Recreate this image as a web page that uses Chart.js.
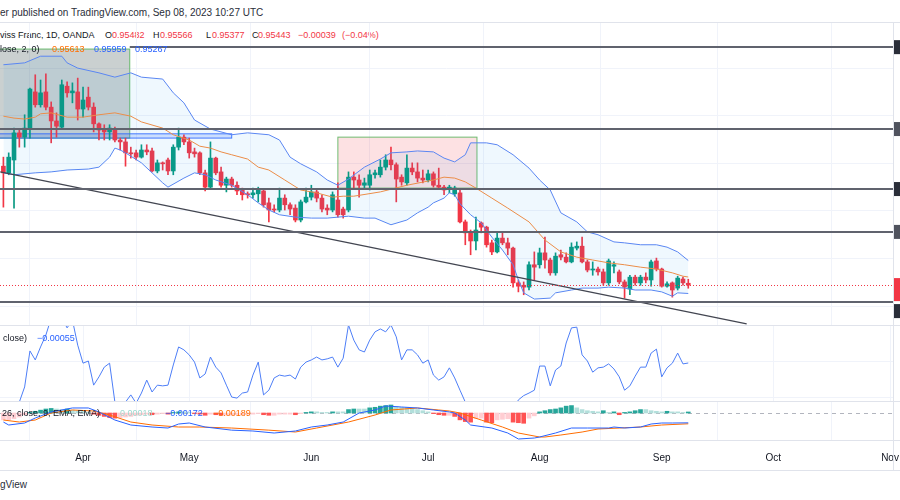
<!DOCTYPE html>
<html>
<head>
<meta charset="utf-8">
<script src="https://cdn.jsdelivr.net/npm/chart.js@4.4.0/dist/chart.umd.min.js"></script>
<style>
  body { margin: 0; width: 900px; height: 500px; background: #fff; position: relative; overflow: hidden; font-family: "Liberation Sans", Arial, sans-serif; }
  canvas { position: absolute; left: 0; }
  .t { position: absolute; white-space: pre; font-size: 9px; line-height: 9px; color: #131722; }
  .hr { position: absolute; left: 0; width: 900px; height: 1px; background: #e0e3eb; }
  .red { color: #f23645; } .blue { color: #2962ff; } .orange { color: #ff6d00; } .teal { color: #9fd8cf; }
</style>
</head>
<body>
<div class="t" style="left:0;top:8px;font-size:10px;line-height:10px;color:#2a2e39">er published on TradingView.com, Sep 08, 2023 10:27 UTC</div>
<div class="hr" style="top:22px"></div>

<div class="t" style="left:0;top:31px">viss Franc, 1D, OANDA</div>
<div class="t" style="left:105px;top:31px">O</div><div class="t red" style="left:112px;top:31px">0.95482</div>
<div class="t" style="left:153px;top:31px">H</div><div class="t red" style="left:160px;top:31px">0.95566</div>
<div class="t" style="left:206px;top:31px">L</div><div class="t red" style="left:212px;top:31px">0.95377</div>
<div class="t" style="left:252px;top:31px">C</div><div class="t red" style="left:258px;top:31px">0.95443</div>
<div class="t red" style="left:298px;top:31px">−0.00039</div><div class="t red" style="left:342px;top:31px">(−0.04%)</div>

<canvas id="price" width="900" height="302" style="top:23px"></canvas>
<canvas id="mom" width="900" height="75" style="top:326px"></canvas>
<canvas id="macd" width="900" height="69" style="top:401px"></canvas>

<div class="t" style="left:0;top:45px">lose, 2, 0)</div>
<div class="t orange" style="left:52px;top:45px">0.95613</div>
<div class="t blue" style="left:94px;top:45px">0.95959</div>
<div class="t blue" style="left:135px;top:45px">0.95267</div>

<div class="t" style="left:3px;top:334px">close)</div>
<div class="t blue" style="left:37px;top:334px">−0.00055</div>

<div class="t" style="left:2px;top:409px">26, close, 9, EMA, EMA)</div>
<div class="t teal" style="left:120px;top:409px">0.00018</div>
<div class="t blue" style="left:165px;top:409px">−0.00172</div>
<div class="t orange" style="left:213px;top:409px">−0.00189</div>

<div class="hr" style="top:325px"></div>
<div class="hr" style="top:401px"></div>
<div class="hr" style="top:440px"></div>
<div class="hr" style="top:470px"></div>
<div style="position:absolute;left:893px;top:22px;width:1px;height:448px;background:#e0e3eb"></div>
<div class="t" style="left:0;top:480px;font-size:10px;line-height:10px;color:#2a2e39">gView</div>

<script>
// daily candles, index 0 = Mar 13 2023 ... 129 = Sep 08 2023
const opens = [
  0.9794, 0.9780, 0.9807, 0.9864, 0.9855, 0.9872, 0.9950, 0.9923, 0.9950, 0.9918,
  0.9889, 0.9876, 0.9962, 0.9948, 0.9950, 0.9914, 0.9939, 0.9918, 0.9883, 0.9872,
  0.9866, 0.9870, 0.9849, 0.9845, 0.9822, 0.9822, 0.9813, 0.9828, 0.9826, 0.9784,
  0.9801, 0.9807, 0.9784, 0.9834, 0.9855, 0.9845, 0.9824, 0.9822, 0.9780, 0.9750,
  0.9811, 0.9782, 0.9754, 0.9767, 0.9754, 0.9744, 0.9736, 0.9734, 0.9736, 0.9742,
  0.9717, 0.9704, 0.9702, 0.9727, 0.9713, 0.9706, 0.9681, 0.9719, 0.9729, 0.9740,
  0.9727, 0.9706, 0.9702, 0.9723, 0.9704, 0.9702, 0.9771, 0.9765, 0.9754, 0.9754,
  0.9776, 0.9776, 0.9792, 0.9807, 0.9797, 0.9771, 0.9759, 0.9790, 0.9782, 0.9769,
  0.9765, 0.9778, 0.9754, 0.9750, 0.9746, 0.9736, 0.9738, 0.9677, 0.9654, 0.9637,
  0.9675, 0.9666, 0.9633, 0.9614, 0.9643, 0.9633, 0.9622, 0.9549, 0.9544, 0.9540,
  0.9587, 0.9587, 0.9612, 0.9597, 0.9570, 0.9608, 0.9603, 0.9593, 0.9622, 0.9626,
  0.9593, 0.9576, 0.9578, 0.9572, 0.9549, 0.9584, 0.9572, 0.9551, 0.9536, 0.9561,
  0.9549, 0.9561, 0.9555, 0.9595, 0.9578, 0.9542, 0.9549, 0.9538, 0.9557, 0.95482
];
const highs = [
  0.9813, 0.9822, 0.9874, 0.9870, 0.9902, 0.9958, 0.9986, 0.9975, 0.9988, 0.9929,
  0.9906, 0.9975, 0.9971, 0.9969, 0.9979, 0.9960, 0.9960, 0.9927, 0.9885, 0.9881,
  0.9881, 0.9876, 0.9853, 0.9853, 0.9834, 0.9828, 0.9839, 0.9839, 0.9832, 0.9807,
  0.9803, 0.9811, 0.9839, 0.9874, 0.9860, 0.9853, 0.9832, 0.9824, 0.9786, 0.9845,
  0.9813, 0.9792, 0.9771, 0.9771, 0.9761, 0.9748, 0.9740, 0.9748, 0.9750, 0.9744,
  0.9727, 0.9713, 0.9748, 0.9734, 0.9717, 0.9713, 0.9723, 0.9748, 0.9754, 0.9744,
  0.9734, 0.9713, 0.9740, 0.9759, 0.9708, 0.9782, 0.9782, 0.9776, 0.9769, 0.9786,
  0.9786, 0.9807, 0.9818, 0.9834, 0.9801, 0.9776, 0.9818, 0.9801, 0.9801, 0.9786,
  0.9786, 0.9782, 0.9790, 0.9754, 0.9754, 0.9752, 0.9744, 0.9681, 0.9660, 0.9687,
  0.9677, 0.9668, 0.9639, 0.9656, 0.9654, 0.9643, 0.9624, 0.9555, 0.9551, 0.9593,
  0.9614, 0.9622, 0.9645, 0.9601, 0.9612, 0.9618, 0.9612, 0.9633, 0.9635, 0.9645,
  0.9597, 0.9593, 0.9582, 0.9578, 0.9599, 0.9593, 0.9576, 0.9555, 0.9565, 0.9565,
  0.9565, 0.9570, 0.9597, 0.9601, 0.9580, 0.9551, 0.9551, 0.9563, 0.9561, 0.95566
];
const lows = [
  0.9708, 0.9776, 0.9706, 0.9834, 0.9834, 0.9853, 0.9918, 0.9918, 0.9912, 0.9843,
  0.9855, 0.9874, 0.9939, 0.9927, 0.9891, 0.9897, 0.9912, 0.9866, 0.9849, 0.9849,
  0.9849, 0.9845, 0.9828, 0.9794, 0.9811, 0.9807, 0.9811, 0.9818, 0.9782, 0.9780,
  0.9786, 0.9776, 0.9776, 0.9828, 0.9839, 0.9811, 0.9813, 0.9776, 0.9742, 0.9748,
  0.9776, 0.9750, 0.9740, 0.9750, 0.9734, 0.9723, 0.9727, 0.9727, 0.9719, 0.9708,
  0.9677, 0.9698, 0.9698, 0.9702, 0.9692, 0.9677, 0.9677, 0.9717, 0.9723, 0.9719,
  0.9698, 0.9692, 0.9698, 0.9687, 0.9685, 0.9698, 0.9748, 0.9729, 0.9748, 0.9744,
  0.9769, 0.9771, 0.9786, 0.9786, 0.9719, 0.9754, 0.9754, 0.9776, 0.9761, 0.9759,
  0.9761, 0.9750, 0.9748, 0.9734, 0.9738, 0.9731, 0.9675, 0.9629, 0.9608, 0.9618,
  0.9654, 0.9624, 0.9608, 0.9612, 0.9629, 0.9608, 0.9540, 0.9530, 0.9524, 0.9534,
  0.9555, 0.9580, 0.9580, 0.9565, 0.9565, 0.9597, 0.9591, 0.9591, 0.9618, 0.9591,
  0.9572, 0.9565, 0.9565, 0.9544, 0.9544, 0.9570, 0.9547, 0.9517, 0.9524, 0.9544,
  0.9544, 0.9549, 0.9542, 0.9574, 0.9540, 0.9540, 0.9519, 0.9534, 0.9544, 0.95377
];
const closes = [
  0.9780, 0.9813, 0.9864, 0.9855, 0.9874, 0.9956, 0.9923, 0.9948, 0.9918, 0.9889,
  0.9878, 0.9965, 0.9948, 0.9952, 0.9914, 0.9933, 0.9918, 0.9883, 0.9870, 0.9866,
  0.9874, 0.9849, 0.9845, 0.9822, 0.9820, 0.9813, 0.9828, 0.9824, 0.9784, 0.9801,
  0.9799, 0.9784, 0.9834, 0.9855, 0.9845, 0.9822, 0.9820, 0.9780, 0.9750, 0.9811,
  0.9780, 0.9754, 0.9767, 0.9754, 0.9742, 0.9734, 0.9734, 0.9738, 0.9744, 0.9713,
  0.9702, 0.9702, 0.9727, 0.9713, 0.9704, 0.9681, 0.9719, 0.9729, 0.9740, 0.9727,
  0.9704, 0.9702, 0.9734, 0.9692, 0.9692, 0.9771, 0.9765, 0.9754, 0.9759, 0.9776,
  0.9780, 0.9792, 0.9807, 0.9797, 0.9767, 0.9761, 0.9790, 0.9782, 0.9769, 0.9765,
  0.9778, 0.9754, 0.9750, 0.9744, 0.9750, 0.9748, 0.9677, 0.9654, 0.9637, 0.9660,
  0.9666, 0.9629, 0.9614, 0.9643, 0.9633, 0.9622, 0.9549, 0.9542, 0.9540, 0.9587,
  0.9582, 0.9612, 0.9597, 0.9570, 0.9605, 0.9603, 0.9593, 0.9624, 0.9626, 0.9593,
  0.9576, 0.9578, 0.9572, 0.9549, 0.9595, 0.9587, 0.9551, 0.9540, 0.9561, 0.9549,
  0.9561, 0.9555, 0.9593, 0.9578, 0.9542, 0.9547, 0.9534, 0.9559, 0.9549, 0.95443
];

// Bollinger bands (20, 2): [bar, value]
const bbUpper = [[0,1.0007],[4,1.0011],[7,1.0025],[11,1.0025],[12,1.0011],[14,1.0000],[18,0.9990],[21,0.9981],[24,0.9990],[26,0.9981],[30,0.9977],[32,0.9948],[34,0.9927],[36,0.9891],[39,0.9872],[43,0.9860],[46,0.9864],[50,0.9860],[52,0.9849],[54,0.9813],[56,0.9799],[59,0.9782],[61,0.9765],[63,0.9754],[65,0.9767],[68,0.9792],[71,0.9809],[73,0.9822],[76,0.9824],[78,0.9826],[81,0.9824],[83,0.9811],[85,0.9803],[87,0.9818],[88,0.9843],[91,0.9843],[93,0.9839],[96,0.9818],[99,0.9790],[101,0.9765],[103,0.9744],[105,0.9696],[108,0.9677],[110,0.9656],[112,0.9650],[115,0.9635],[117,0.9633],[120,0.9629],[123,0.9629],[125,0.9624],[127,0.9614],[129,0.95959]];
const bbLower = [[0,0.9780],[2,0.9776],[6,0.9780],[9,0.9782],[12,0.9786],[16,0.9788],[18,0.9792],[20,0.9813],[21,0.9832],[22,0.9828],[23,0.9822],[26,0.9801],[28,0.9780],[30,0.9759],[31,0.9750],[34,0.9769],[36,0.9780],[38,0.9776],[40,0.9765],[43,0.9754],[46,0.9734],[48,0.9717],[50,0.9702],[52,0.9692],[55,0.9687],[58,0.9685],[61,0.9685],[63,0.9687],[65,0.9689],[68,0.9685],[70,0.9685],[73,0.9671],[76,0.9681],[78,0.9696],[80,0.9708],[81,0.9717],[83,0.9727],[84,0.9738],[85,0.9734],[86,0.9715],[88,0.9692],[90,0.9675],[92,0.9645],[94,0.9618],[96,0.9587],[97,0.9555],[98,0.9528],[100,0.9515],[103,0.9517],[104,0.9528],[107,0.9534],[109,0.9538],[112,0.9538],[114,0.9540],[117,0.9538],[119,0.9534],[122,0.9534],[124,0.9530],[126,0.9521],[127,0.9528],[129,0.95267]];
const bbBasis = [[0,0.9899],[2,0.9895],[4,0.9893],[6,0.9897],[7,0.9904],[9,0.9906],[12,0.9897],[15,0.9897],[18,0.9902],[21,0.9906],[24,0.9899],[26,0.9887],[30,0.9874],[32,0.9860],[35,0.9849],[37,0.9836],[39,0.9832],[41,0.9824],[43,0.9818],[46,0.9809],[48,0.9792],[50,0.9786],[53,0.9765],[56,0.9744],[59,0.9738],[62,0.9729],[64,0.9731],[66,0.9731],[71,0.9740],[76,0.9754],[81,0.9765],[83,0.9771],[85,0.9769],[87,0.9761],[89,0.9748],[92,0.9727],[95,0.9706],[99,0.9677],[102,0.9639],[105,0.9614],[108,0.9603],[111,0.9597],[114,0.9591],[117,0.9587],[120,0.9582],[123,0.9578],[126,0.9570],[128,0.9563],[129,0.95613]];

// momentum pane, first value at bar 2
const momStart = 2;
const momentum = [
  -0.0164, -0.0114, -0.0072, 0.0028, 0.0003, 0.0039, 0.0072, 0.0119, 0.0136, 0.0119,
  0.0092, 0.0114, 0.0044, -0.0006, 0.0000, -0.0067, -0.0044, -0.0017, -0.0006, -0.0114,
  -0.0122, -0.0114, -0.0094, -0.0117, -0.0089, -0.0053, -0.0086, -0.0067, -0.0069, -0.0067,
  -0.0011, 0.0039, 0.0031, 0.0017, -0.0003, -0.0047, -0.0036, 0.0011, -0.0017, -0.0033,
  -0.0067, -0.0100, -0.0103, -0.0089, -0.0086, -0.0039, -0.0003, -0.0094, -0.0081, -0.0047,
  -0.0039, -0.0042, -0.0039, -0.0050, -0.0017, -0.0003, 0.0003, 0.0011, 0.0003, 0.0006,
  0.0011, -0.0017, 0.0008, 0.0100, 0.0058, 0.0031, 0.0025, 0.0058, 0.0081, 0.0089,
  0.0081, 0.0100, 0.0067, 0.0003, 0.0031, 0.0031, 0.0017, -0.0006, 0.0003, -0.0039,
  -0.0053, -0.0044, -0.0019, -0.0047, -0.0081, -0.0114, -0.0142, -0.0164, -0.0178, -0.0192,
  -0.0178, -0.0186, -0.0164, -0.0150, -0.0136, -0.0108, -0.0096, -0.0089, -0.0081, -0.0014,
  -0.0014, -0.0069, -0.0025, -0.0014, 0.0050, 0.0092, 0.0094, 0.0017, 0.0000, -0.0031,
  -0.0019, -0.0017, -0.0008, -0.0022, -0.0044, -0.0081, -0.0069, -0.0042, -0.0017, -0.0017,
  0.0022, 0.0033, -0.0044, -0.0019, -0.0006, 0.0022, -0.0008, -0.00055
];

// MACD (12, 26, 9)
const macdHist = [
  -0.0012, -0.0012, -0.0010, -0.0007, -0.0003, 0.0001, 0.0003, 0.0005, 0.0007, 0.0008,
  0.0007, 0.0006, 0.0007, 0.0005, 0.0004, 0.0003, 0.0001, -0.0002, -0.0004, -0.0006,
  -0.0008, -0.0009, -0.0008, -0.0007, -0.0006, -0.0004, -0.0003, -0.0002, -0.0003, -0.0002,
  -0.0001, -0.0002, 0.0001, 0.0002, 0.0002, 0.0001, -0.0001, -0.0002, -0.0004, -0.0002,
  -0.0003, -0.0004, -0.0004, -0.0004, -0.0003, -0.0003, -0.0002, -0.0002, -0.0001, -0.0003,
  -0.0004, -0.0004, -0.0002, -0.0002, -0.0002, -0.0003, -0.0001, 0.0001, 0.0002, 0.0002,
  0.0001, 0.0001, 0.0002, 0.0002, 0.0002, 0.0006, 0.0007, 0.0007, 0.0007, 0.0009,
  0.0010, 0.0012, 0.0013, 0.0014, 0.0011, 0.0010, 0.0010, 0.0008, 0.0006, 0.0004,
  0.0002, -0.0001, -0.0003, -0.0004, -0.0004, -0.0006, -0.0012, -0.0015, -0.0016, -0.0010,
  -0.0009, -0.0016, -0.0017, -0.0012, -0.0011, -0.0010, -0.0016, -0.0017, -0.0018, -0.0009,
  -0.0005, 0.0002, 0.0004, 0.0006, 0.0007, 0.0009, 0.0012, 0.0013, 0.0009, 0.0006,
  0.0004, 0.0003, 0.0002, 0.0004, 0.0001, 0.0002, -0.0003, 0.0001, 0.0002, 0.0004,
  0.0006, 0.0006, 0.0004, 0.0003, 0.0002, 0.0003, 0.0002, 0.0002, 0.0001, 0.00018
];
const macdLine = [[0,-0.00158],[1,-0.0021],[4,-0.00175],[6,-0.00088],[9,0.00018],[13,0.00088],[16,0.00088],[18,0.00018],[21,-0.00123],[24,-0.0021],[28,-0.00245],[31,-0.00263],[33,-0.00193],[35,-0.00175],[38,-0.00245],[43,-0.0030],[47,-0.00315],[51,-0.0035],[55,-0.00315],[58,-0.00245],[61,-0.0021],[64,-0.00158],[67,0],[70,0.00053],[72,0.00123],[75,0.00105],[78,0.00088],[81,0.00053],[84,0.00018],[85,0],[87,-0.00123],[88,-0.0021],[92,-0.00263],[95,-0.0035],[97,-0.00455],[100,-0.00438],[101,-0.0042],[104,-0.0035],[107,-0.00263],[110,-0.00263],[114,-0.00263],[115,-0.00245],[117,-0.00263],[120,-0.00245],[122,-0.00193],[124,-0.00175],[126,-0.00175],[129,-0.00172]];
const signalLine = [[0,-0.00123],[3,-0.00158],[6,-0.00123],[9,0],[13,0.00053],[17,0.00035],[20,-0.00035],[24,-0.00158],[28,-0.0021],[33,-0.00245],[37,-0.00245],[43,-0.00263],[50,-0.0030],[55,-0.00333],[59,-0.00263],[65,-0.00158],[70,-0.00035],[73,0.00053],[78,0.00088],[82,0.00053],[84,0.00035],[86,0],[90,-0.00123],[94,-0.00245],[97,-0.0035],[101,-0.0042],[102,-0.0042],[105,-0.00385],[109,-0.00333],[112,-0.0028],[116,-0.00263],[120,-0.00245],[124,-0.0021],[129,-0.00189]];

// time axis
const monthIdx = [15, 35, 58, 80, 101, 124, 145, 167];
const monthLabels = ['Apr', 'May', 'Jun', 'Jul', 'Aug', 'Sep', 'Oct', 'Nov'];

// drawings on the price pane (bar index / price)
const levels = [1.0044, 0.9872, 0.9746, 0.9656, 0.9509];
const levelFrom = [23.8, -1, -1, -1, -1];
const trend = [[-0.6, 0.9782], [140, 0.9463]];
const zones = [
  { from: -1, to: 23.8, top: 1.0040, bottom: 0.9853 },
  { from: -1, to: 43, top: 0.9862, bottom: 0.9853 },
  { from: 63, to: 89.2, top: 0.9855, bottom: 0.9748 }
];

const zoneStyles = [
  { fill: 'rgba(91,110,110,0.32)', border: 'rgba(76,175,80,0.8)' },
  { fill: 'rgba(41,98,255,0.18)', border: 'rgba(41,98,255,0.85)' },
  { fill: 'rgba(242,54,69,0.15)', border: 'rgba(76,175,80,0.8)' }
];
const levelBoxColors = ['#2a2e39', '#50535e', '#2a2e39', '#50535e', '#2a2e39'];
const UP = '#089981', DOWN = '#f23645';
const X_MIN = -0.64, X_MAX = 167.56;

Chart.defaults.font.family = '"Liberation Sans", Arial, sans-serif';
Chart.defaults.animation = false;

const pairs = arr => arr.map(p => ({ x: p[0], y: p[1] }));
const candleColors = closes.map((c, i) => c >= opens[i] ? UP : DOWN);

const xAxis = (showTicks) => ({
  type: 'linear', min: X_MIN, max: X_MAX, offset: false,
  grid: { color: '#f0f3fa', drawTicks: false },
  border: { display: false },
  ticks: {
    display: showTicks, color: '#131722', font: { size: 10 }, padding: 12,
    maxRotation: 0, autoSkip: false,
    callback: v => monthLabels[monthIdx.indexOf(v)] || ''
  },
  afterBuildTicks: s => { s.ticks = monthIdx.map(v => ({ value: v })); },
  afterFit: s => { s.height = showTicks ? 30 : 0; s.paddingLeft = 0; s.paddingRight = 0; }
});
const yAxis = (min, max, step, grid) => ({
  type: 'linear', position: 'right', min, max,
  grid: { display: grid, color: '#f0f3fa', drawTicks: false },
  border: { display: false },
  ticks: { display: false, stepSize: step, includeBounds: false },
  afterFit: s => { s.width = 0; }
});
const baseOptions = (x, y) => ({
  responsive: false,
  layout: { padding: { left: 0, right: 7, top: 0, bottom: 0 } },
  plugins: { legend: { display: false }, tooltip: { enabled: false } },
  scales: { x, y }
});

const priceDrawings = {
  id: 'priceDrawings',
  beforeDatasetsDraw(chart) {
    const { ctx, chartArea: a, scales: { x, y } } = chart;
    ctx.save();
    ctx.beginPath(); ctx.rect(a.left, a.top, a.width, a.height); ctx.clip();
    zones.forEach((z, k) => {
      const x0 = x.getPixelForValue(z.from), x1 = x.getPixelForValue(z.to);
      const y0 = y.getPixelForValue(z.top), y1 = y.getPixelForValue(z.bottom);
      ctx.fillStyle = zoneStyles[k].fill;
      ctx.fillRect(x0, y0, x1 - x0, y1 - y0);
      ctx.strokeStyle = zoneStyles[k].border;
      ctx.lineWidth = 1;
      ctx.strokeRect(x0, y0, x1 - x0, y1 - y0);
    });
    ctx.restore();
  },
  afterDatasetsDraw(chart) {
    const { ctx, chartArea: a, scales: { x, y } } = chart;
    ctx.save();
    ctx.beginPath(); ctx.rect(a.left, a.top, a.width, a.height); ctx.clip();
    // trend line
    ctx.strokeStyle = '#434651'; ctx.lineWidth = 1.3;
    ctx.beginPath();
    ctx.moveTo(x.getPixelForValue(trend[0][0]), y.getPixelForValue(trend[0][1]));
    ctx.lineTo(x.getPixelForValue(trend[1][0]), y.getPixelForValue(trend[1][1]));
    ctx.stroke();
    // horizontal levels
    ctx.strokeStyle = '#60636e'; ctx.lineWidth = 2;
    levels.forEach((v, k) => {
      const py = Math.round(y.getPixelForValue(v));
      ctx.beginPath();
      ctx.moveTo(x.getPixelForValue(levelFrom[k]), py);
      ctx.lineTo(a.right, py);
      ctx.stroke();
    });
    // last price
    const last = closes[closes.length - 1];
    const ly = Math.round(y.getPixelForValue(last)) + 0.5;
    ctx.strokeStyle = DOWN; ctx.lineWidth = 1; ctx.setLineDash([1, 2]);
    ctx.beginPath(); ctx.moveTo(a.left, ly); ctx.lineTo(a.right, ly); ctx.stroke();
    ctx.restore();
  },
  afterDraw(chart) {
    const { ctx, chartArea: a, scales: { y } } = chart;
    const boxes = levels.map((v, k) => ({ y: y.getPixelForValue(v) - 7, h: 14, c: levelBoxColors[k] }));
    boxes.push({ y: y.getPixelForValue(closes[closes.length - 1]) - 7, h: 23, c: DOWN });
    boxes.sort((p, q) => p.y - q.y);
    let prevEnd = -Infinity;
    ctx.save();
    boxes.forEach(b => {
      if (b.y < prevEnd + 3) b.y = prevEnd + 3;
      ctx.fillStyle = b.c;
      ctx.fillRect(a.right + 1, b.y, 10, b.h);
      prevEnd = b.y + b.h;
    });
    ctx.restore();
  }
};

new Chart(document.getElementById('price'), {
  type: 'bar',
  data: {
    datasets: [
      { type: 'line', data: pairs(bbUpper), borderColor: '#5a86f2', borderWidth: 1, pointRadius: 0,
        fill: '+1', backgroundColor: 'rgba(33,150,243,0.07)', order: 0 },
      { type: 'line', data: pairs(bbLower), borderColor: '#5a86f2', borderWidth: 1, pointRadius: 0, fill: false, order: 0 },
      { type: 'line', data: pairs(bbBasis), borderColor: '#fb8c3c', borderWidth: 1, pointRadius: 0, fill: false, order: 0 },
      { data: lows.map((l, i) => ({ x: i, y: [l, highs[i]] })), backgroundColor: candleColors,
        barThickness: 1, grouped: false, order: 3 },
      { data: opens.map((o, i) => ({ x: i, y: [o, closes[i]] })), backgroundColor: candleColors,
        barThickness: 4, minBarLength: 1, grouped: false, order: 2 }
    ]
  },
  options: baseOptions(xAxis(false), yAxis(0.94605, 1.00947, 0.01, true)),
  plugins: [priceDrawings]
});

new Chart(document.getElementById('mom'), {
  type: 'line',
  data: {
    datasets: [{ data: momentum.map((v, k) => ({ x: momStart + k, y: v })), borderColor: '#4d7ef7',
      borderWidth: 1, pointRadius: 0, fill: false }]
  },
  options: baseOptions(xAxis(false), yAxis(-0.0111, 0.00972, 0.01, true))
});

const zeroLine = {
  id: 'zeroLine',
  beforeDatasetsDraw(chart) {
    const { ctx, chartArea: a, scales: { y } } = chart;
    const py = Math.round(y.getPixelForValue(0)) + 0.5;
    ctx.save();
    ctx.strokeStyle = '#b2b5be'; ctx.lineWidth = 1; ctx.setLineDash([4, 4]);
    ctx.beginPath(); ctx.moveTo(a.left, py); ctx.lineTo(a.right, py); ctx.stroke();
    ctx.restore();
  }
};
const histColors = macdHist.map((v, i) => {
  const prev = i > 0 ? macdHist[i - 1] : v;
  if (v >= 0) return v > prev ? '#26a69a' : '#b2dfdb';
  return v < prev ? '#ff5252' : '#ffcdd2';
});

new Chart(document.getElementById('macd'), {
  type: 'bar',
  data: {
    datasets: [
      { type: 'line', data: pairs(macdLine), borderColor: '#2962ff', borderWidth: 1, pointRadius: 0, order: 0 },
      { type: 'line', data: pairs(signalLine), borderColor: '#ff6d00', borderWidth: 1, pointRadius: 0, order: 0 },
      { data: macdHist.map((v, i) => ({ x: i, y: v })), backgroundColor: histColors, barThickness: 4, grouped: false, order: 1 }
    ]
  },
  options: baseOptions(xAxis(true), yAxis(-0.004725, 0.0021, 0.01, false)),
  plugins: [zeroLine]
});
</script>
</body>
</html>
